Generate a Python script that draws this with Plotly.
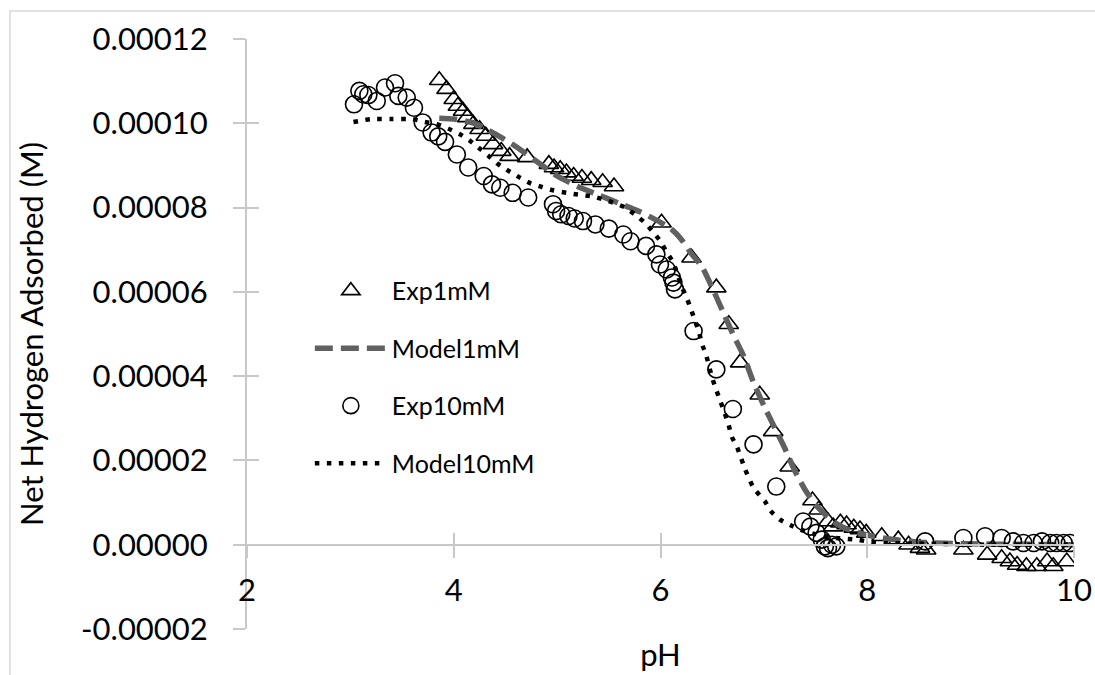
import plotly.graph_objects as go

# ---- measured data: pH vs. net hydrogen adsorbed (M) ----
ph_exp1 = [3.86, 3.93, 4.00, 4.04, 4.09, 4.13, 4.19, 4.25, 4.31, 4.38, 4.46, 4.54,
           4.71, 4.92, 4.97, 5.03, 5.09, 5.16, 5.24, 5.33, 5.44, 5.55, 6.01, 6.30,
           6.54, 6.66, 6.77, 6.96, 7.09, 7.25, 7.47, 7.53, 7.62, 7.67, 7.74, 7.80,
           7.87, 7.93, 7.99, 8.14, 8.30, 8.40, 8.51, 8.57, 8.93, 9.16, 9.30, 9.38,
           9.45, 9.54, 9.64, 9.74, 9.80, 9.93]
h_exp1 = [1.102e-4, 1.081e-4, 1.057e-4, 1.041e-4, 1.029e-4, 1.014e-4, 9.98e-5, 9.86e-5,
          9.70e-5, 9.50e-5, 9.34e-5, 9.22e-5, 9.19e-5, 9.03e-5, 8.95e-5, 8.91e-5,
          8.83e-5, 8.75e-5, 8.70e-5, 8.65e-5, 8.60e-5, 8.50e-5, 7.64e-5, 6.81e-5,
          6.10e-5, 5.23e-5, 4.32e-5, 3.56e-5, 2.69e-5, 1.85e-5, 1.05e-5, 8.3e-6,
          5.5e-6, 4.3e-6, 5.2e-6, 4.8e-6, 4.0e-6, 3.6e-6, 2.8e-6, 2.0e-6, 1.2e-6,
          0.0, -8e-7, -1.2e-6, -1.2e-6, -2.4e-6, -3.2e-6, -4.0e-6, -4.8e-6, -5.1e-6,
          -5.1e-6, -4.0e-6, -5.1e-6, -4.0e-6]

ph_model1 = [3.86, 4.0, 4.2, 4.4, 4.6, 4.8, 5.0, 5.2, 5.4, 5.6, 5.8, 6.0, 6.1, 6.2,
             6.3, 6.4, 6.5, 6.6, 6.7, 6.8, 6.9, 7.0, 7.1, 7.2, 7.3, 7.4, 7.5, 7.6,
             7.7, 7.8, 8.0, 8.2, 8.5, 9.0, 9.5, 10.0]
h_model1 = [1.012e-4, 1.010e-4, 1.000e-4, 9.75e-5, 9.45e-5, 9.10e-5, 8.75e-5, 8.50e-5,
            8.30e-5, 8.10e-5, 7.90e-5, 7.65e-5, 7.50e-5, 7.25e-5, 6.90e-5, 6.60e-5,
            6.10e-5, 5.55e-5, 5.00e-5, 4.50e-5, 3.85e-5, 3.30e-5, 2.80e-5, 2.30e-5,
            1.75e-5, 1.30e-5, 9.5e-6, 7.0e-6, 5.0e-6, 3.8e-6, 2.3e-6, 1.4e-6, 6e-7,
            2e-7, 1e-7, 0.0]

ph_exp10 = [3.035, 3.087, 3.125, 3.174, 3.255, 3.335, 3.432, 3.464, 3.545, 3.615,
            3.70, 3.786, 3.85, 3.916, 4.03, 4.14, 4.29, 4.37, 4.45, 4.57, 4.72, 4.96,
            4.99, 5.04, 5.11, 5.17, 5.25, 5.37, 5.50, 5.64, 5.71, 5.86, 5.96, 5.995,
            6.06, 6.11, 6.125, 6.14, 6.32, 6.54, 6.70, 6.90, 7.12, 7.38, 7.45, 7.51,
            7.56, 7.59, 7.62, 7.66, 7.70, 8.56, 8.93, 9.14, 9.30, 9.41, 9.51, 9.61,
            9.69, 9.77, 9.83, 9.90, 9.96]
h_exp10 = [1.045e-4, 1.077e-4, 1.069e-4, 1.067e-4, 1.053e-4, 1.085e-4, 1.095e-4,
           1.065e-4, 1.061e-4, 1.037e-4, 1.002e-4, 9.78e-5, 9.69e-5, 9.56e-5, 9.26e-5,
           8.95e-5, 8.75e-5, 8.55e-5, 8.47e-5, 8.35e-5, 8.24e-5, 8.08e-5, 7.92e-5,
           7.84e-5, 7.80e-5, 7.74e-5, 7.68e-5, 7.60e-5, 7.50e-5, 7.36e-5, 7.20e-5,
           7.09e-5, 6.89e-5, 6.65e-5, 6.53e-5, 6.34e-5, 6.22e-5, 6.06e-5, 5.07e-5,
           4.16e-5, 3.22e-5, 2.38e-5, 1.38e-5, 5.5e-6, 4.3e-6, 2.8e-6, 1.2e-6, -4e-7,
           -8e-7, 0.0, -4e-7, 8e-7, 1.6e-6, 2.0e-6, 1.6e-6, 8e-7, 4e-7, 4e-7, 8e-7,
           4e-7, 4e-7, 4e-7, 4e-7]

ph_model10 = [3.03, 3.2, 3.4, 3.6, 3.72, 3.83, 3.95, 4.06, 4.16, 4.25, 4.34, 4.43,
              4.53, 4.64, 4.74, 4.85, 4.96, 5.09, 5.20, 5.35, 5.54, 5.66, 5.75, 5.85,
              5.92, 6.00, 6.06, 6.12, 6.16, 6.20, 6.25, 6.29, 6.33, 6.37, 6.40, 6.44,
              6.50, 6.54, 6.58, 6.62, 6.66, 6.69, 6.74, 6.82, 6.90, 7.01, 7.07, 7.16,
              7.27, 7.35, 7.50, 7.70, 7.90, 8.00, 8.16, 8.40, 8.70, 9.16, 9.50, 10.0]
h_model10 = [1.003e-4, 1.010e-4, 1.010e-4, 1.010e-4, 1.003e-4, 9.98e-5, 9.87e-5,
             9.74e-5, 9.58e-5, 9.40e-5, 9.22e-5, 9.03e-5, 8.87e-5, 8.71e-5, 8.58e-5,
             8.49e-5, 8.41e-5, 8.35e-5, 8.31e-5, 8.26e-5, 8.12e-5, 8.00e-5, 7.84e-5,
             7.64e-5, 7.44e-5, 7.20e-5, 6.94e-5, 6.71e-5, 6.45e-5, 6.15e-5, 5.88e-5,
             5.62e-5, 5.34e-5, 5.07e-5, 4.77e-5, 4.51e-5, 3.96e-5, 3.67e-5, 3.40e-5,
             3.13e-5, 2.83e-5, 2.56e-5, 2.32e-5, 1.78e-5, 1.35e-5, 1.03e-5, 7.9e-6,
             5.9e-6, 4.5e-6, 3.6e-6, 2.5e-6, 1.6e-6, 1.2e-6, 8e-7, 4e-7, 3e-7, 2e-7,
             0.0, 0.0, 0.0]

# ---- axis ticks ----
x_tick_vals = [2, 4, 6, 8, 10]
y_tick_vals = [-0.00002, 0.0, 0.00002, 0.00004, 0.00006, 0.00008, 0.00010, 0.00012]
y_tick_text = ["-0.00002", "0.00000", "0.00002", "0.00004", "0.00006", "0.00008",
               "0.00010", "0.00012"]
X_RANGE = [2, 10]
Y_RANGE = [-0.00002, 0.00012]

FONT = "Lato"
AXIS_GRAY = "#c8c8c8"
TEXT = "#000000"
TICK_SIZE = 31
TITLE_SIZE = 31

fig = go.Figure()

fig.add_trace(go.Scatter(
    x=ph_exp1, y=h_exp1, mode="markers", name="Exp1mM", legendgroup="g1",
    marker=dict(symbol="triangle-up-open", size=17, color="black",
                line=dict(width=1.6, color="black")),
))
fig.add_trace(go.Scatter(
    x=ph_model1, y=h_model1, mode="lines", name="Model1mM", legendgroup="g2",
    line=dict(color="#606060", width=5.5, dash="18px,8px", shape="spline", smoothing=0.6),
))
fig.add_trace(go.Scatter(
    x=ph_exp10, y=h_exp10, mode="markers", name="Exp10mM", legendgroup="g3",
    marker=dict(symbol="circle-open", size=17, color="black",
                line=dict(width=1.6, color="black")),
))
fig.add_trace(go.Scatter(
    x=ph_model10, y=h_model10, mode="lines", name="Model10mM", legendgroup="g4",
    line=dict(color="black", width=4.5, dash="4.5px,7.5px", shape="spline", smoothing=0.6),
))
# empty trace that carries the overlay axes (inner half of the crossing tick marks)
fig.add_trace(go.Scatter(x=[], y=[], xaxis="x2", yaxis="y2", showlegend=False,
                         hoverinfo="skip"))

zero_pos = -Y_RANGE[0] / (Y_RANGE[1] - Y_RANGE[0])

axis_common = dict(showgrid=False, zeroline=False, tickcolor=AXIS_GRAY, tickwidth=2,
                   ticklen=12)

fig.update_layout(
    width=1095, height=675,
    margin=dict(l=247, r=21, t=39, b=46),
    paper_bgcolor="white", plot_bgcolor="white",
    font=dict(family=FONT, size=TITLE_SIZE, color=TEXT),
    showlegend=True,
    legend=dict(
        x=0.076, y=0.612, xanchor="left", yanchor="top",
        font=dict(family=FONT, size=25, color=TEXT),
        bgcolor="rgba(0,0,0,0)", itemwidth=72, tracegroupgap=22,
        traceorder="grouped",
    ),
    xaxis=dict(
        range=X_RANGE, tickvals=x_tick_vals, ticks="outside",
        showline=True, linecolor=AXIS_GRAY, linewidth=2,
        anchor="free", position=zero_pos, ticklabelstandoff=6,
        tickfont=dict(family=FONT, size=TICK_SIZE, color=TEXT),
        title=dict(text="pH", font=dict(family=FONT, size=TITLE_SIZE, color=TEXT),
                   standoff=36),
        automargin=False, **axis_common,
    ),
    yaxis=dict(
        range=Y_RANGE, tickvals=y_tick_vals, ticktext=y_tick_text, ticks="outside",
        showline=True, linecolor=AXIS_GRAY, linewidth=2, ticklabelstandoff=19,
        tickfont=dict(family=FONT, size=TICK_SIZE, color=TEXT),
        title=dict(text="Net Hydrogen Adsorbed (M)",
                   font=dict(family=FONT, size=TITLE_SIZE, color=TEXT), standoff=28),
        automargin=False, **axis_common,
    ),
    xaxis2=dict(
        range=X_RANGE, tickvals=x_tick_vals, ticks="inside", showticklabels=False,
        overlaying="x", anchor="free", position=zero_pos, showline=False,
        **axis_common,
    ),
    yaxis2=dict(
        range=Y_RANGE, tickvals=y_tick_vals, ticks="inside", showticklabels=False,
        overlaying="y", anchor="x2", side="left", showline=False,
        **axis_common,
    ),
    shapes=[
        # chart-area outline
        dict(type="rect", xref="paper", yref="paper",
             x0=-0.2866, y0=1.0475, x1=1.2, y1=-0.3,
             line=dict(color="#d9d9d9", width=1.5), fillcolor="rgba(0,0,0,0)",
             layer="below"),
    ],
)

fig.write_html("out.html")
